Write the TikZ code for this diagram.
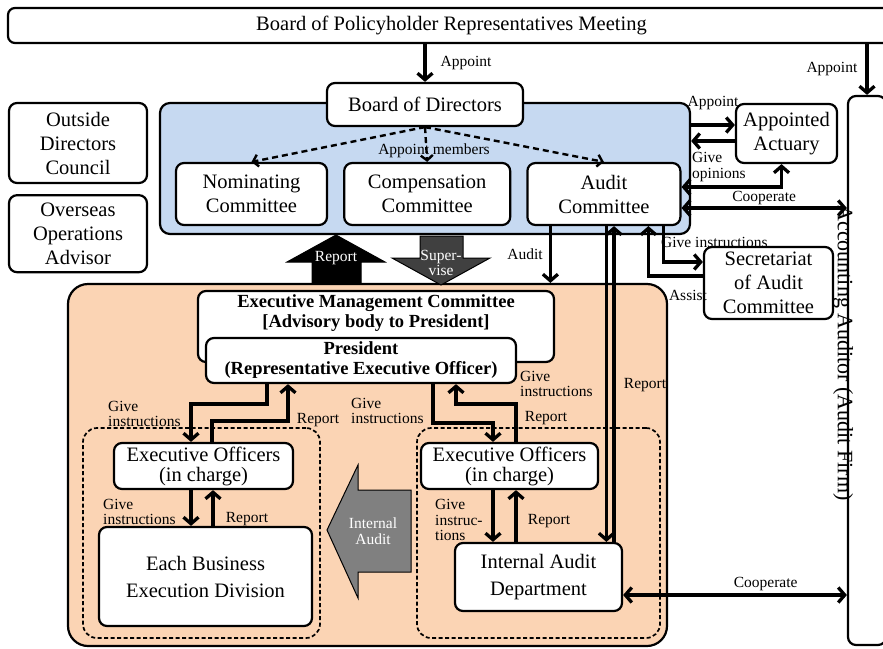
\documentclass[tikz,border=0pt]{standalone}
\usepackage{fontspec}
\setmainfont{Liberation Serif}
\usetikzlibrary{arrows.meta,positioning}
\definecolor{boardblue}{RGB}{198,217,241}
\definecolor{execorange}{RGB}{251,212,180}
\definecolor{supgray}{RGB}{64,64,64}
\definecolor{iagray}{RGB}{128,128,128}
\newcommand{\boxfont}{\fontsize{20.5}{24}\selectfont}
\newcommand{\labfont}{\fontsize{15.5}{15.5}\selectfont}
\newcommand{\headfont}{\fontsize{18.5}{20}\selectfont\bfseries}

\begin{document}
\begin{tikzpicture}[x=1pt, y=-1pt,
	org/.style={draw, line width=2.2pt, rounded corners=8pt, fill=white, align=center, font=\boxfont, inner sep=0pt},
	lab/.style={font=\labfont, inner sep=0pt, align=left},
	arr/.style={line width=3.3pt, -{Straight Barb[length=6.5pt,width=15pt]}},
	twoway/.style={line width=3.3pt, {Straight Barb[length=6.5pt,width=15pt]}-{Straight Barb[length=6.5pt,width=15pt]}},
	dasharr/.style={line width=2.4pt, dash pattern=on 6pt off 4pt, -{Straight Barb[length=5pt,width=12pt]}},
	group/.style={draw, line width=1.7pt, dash pattern=on 4pt off 2.5pt, rounded corners=14pt, inner sep=0pt},
	inv/.style={font=\labfont, text=white, align=center, inner sep=0pt}]

	\useasboundingbox (0,0) rectangle (883,648);

	\node (bluebg) [draw, fill=boardblue, line width=2.2pt, rounded corners=10pt, minimum width=530pt, minimum height=131pt, inner sep=0pt] at (425,168.5) {};
	\node (exbg) [draw, fill=execorange, line width=2.2pt, rounded corners=20pt, minimum width=599pt, minimum height=362pt, inner sep=0pt] at (367.5,465) {};
	\node (lgrp) [group, minimum width=237pt, minimum height=210pt] at (201.5,533) {};
	\node (rgrp) [group, minimum width=243pt, minimum height=210pt] at (538.5,533) {};

	\node (bprm) [org, rounded corners=7pt, minimum width=887pt, minimum height=35pt] at (451.5,25.5) {Board of Policyholder Representatives Meeting};
	\node (auditor) [org, minimum width=38pt, minimum height=549pt] at (867,370.5) {};
	\node (audtext) [font=\fontsize{22}{24}\selectfont, rotate=-90, inner sep=0pt] at (843,353) {Accounting Auditor (Audit Firm)};

	\node (bod) [org, minimum width=196pt, minimum height=43pt] at (425,104.5) {Board of Directors};
	\node (nom) [org, minimum width=151pt, minimum height=62pt] at (251.5,194) {Nominating\\Committee};
	\node (comp) [org, minimum width=166pt, minimum height=62pt, right=15pt of nom] {Compensation\\Committee};
	\node (aud) [org, minimum width=153pt, minimum height=62pt, right=15pt of comp] {Audit\\Committee};

	\node (odc) [org, minimum width=138pt, minimum height=80pt] at (78,143) {Outside\\Directors\\Council};
	\node (ooa) [org, minimum width=138pt, minimum height=77pt, below=10pt of odc] {Overseas\\Operations\\Advisor};

	\node (act) [org, minimum width=101pt, minimum height=59pt] at (786.5,133.5) {Appointed\\Actuary};
	\node (sec) [org, minimum width=129pt, minimum height=72pt] at (768.5,283) {Secretariat\\of Audit\\Committee};

	\node (emc) [org, minimum width=356pt, minimum height=71pt, label={[name=emclab, font=\headfont, align=center, anchor=north, inner sep=0pt, yshift=-5pt]north:{Executive Management Committee\\{[}Advisory body to President{]}}}] at (376,326.5) {};
	\node (pres) [org, font=\headfont, minimum width=310pt, minimum height=45pt] at (361,360.5) {President\\(Representative Executive Officer)};

	\node (eol) [org, font=\fontsize{20.5}{20}\selectfont, minimum width=179pt, minimum height=46pt] at (203.5,466) {Executive Officers\\(in charge)};
	\node (bed) [org, font=\fontsize{20.5}{27}\selectfont, minimum width=213pt, minimum height=99pt] at (205.5,576.5) {Each Business\\Execution Division};
	\node (eor) [org, font=\fontsize{20.5}{20}\selectfont, minimum width=177pt, minimum height=46pt] at (509.5,466) {Executive Officers\\(in charge)};
	\node (iad) [org, font=\fontsize{20.5}{27}\selectfont, minimum width=167pt, minimum height=68pt] at (538.5,577) {Internal Audit\\Department};

	\filldraw[line width=1pt] (312,284) -- (312,262) -- (287,262) -- (336,235) -- (385,262) -- (361,262) -- (361,284) -- cycle;
	\node (rpt) [inv] at (336,258) {Report};
	\filldraw[fill=supgray, line width=1pt] (420,236) -- (463,236) -- (463,258) -- (490,258) -- (441,285) -- (392,258) -- (420,258) -- cycle;
	\node (sup) [inv] at (441,263) {Super-\\vise};
	\filldraw[fill=iagray, line width=1pt] (411,490) -- (358,490) -- (358,465) -- (327,530) -- (358,598) -- (358,572) -- (411,572) -- cycle;
	\node (ia) [inv] at (373,531) {Internal\\Audit};

	\draw[arr] (bprm.south -| bod.north) -- node[lab, right=14pt] {Appoint} (bod.north);
	\draw[arr] (bprm.south -| auditor.north) -- node[lab, left=8pt] {Appoint} (auditor.north);

	\draw[dasharr] (bod.south) -- (nom.north);
	\draw[dasharr] (bod.south) -- (comp.north);
	\draw[dasharr] (bod.south) -- (aud.north);
	\node (apm) [lab] at (434,151) {Appoint members};

	\coordinate (actin) at ([yshift=8.5pt]act.west);
	\coordinate (actout) at ([yshift=-7.5pt]act.west);
	\draw[arr] (actin -| bluebg.east) -- node[lab, above=14pt] {Appoint} (actin);
	\draw[arr] (actout) -- (actout -| bluebg.east);

	\coordinate (opn) at ([yshift=7pt]aud.east);
	\draw[twoway] (opn) -| ([xshift=-5pt]act.south);
	\node (opnlab) [lab, anchor=west] at (692,167) {Give\\opinions};

	\coordinate (coop) at ([yshift=-14pt]aud.east);
	\draw[twoway] (coop) -- node[lab, above=2pt] {Cooperate} (coop -| auditor.west);

	\coordinate (gis) at ([xshift=59.5pt]aud.south);
	\draw[arr] (gis) |- ([yshift=21pt]sec.west);
	\node (gislab) [lab, anchor=west] at (661,242) {Give instructions};

	\coordinate (asi) at ([yshift=7pt]sec.west);
	\draw[arr] (asi) -| ([xshift=44.5pt]aud.south);
	\node (asilab) [lab] at (688,295) {Assist};

	\coordinate (audt) at ([xshift=-53.5pt]aud.south);
	\draw[arr] (audt) -- node[lab, left=6pt] {Audit} (audt |- exbg.north);

	\coordinate (audi) at ([xshift=2.5pt]aud.south);
	\draw[arr] (audi) -- (audi |- iad.north);
	\node (audilab) [lab, anchor=west] at (520,384) {Give\\instructions};
	\coordinate (iadr) at ([xshift=75.5pt]iad.north);
	\draw[arr] (iadr) -- (iadr |- aud.south);
	\node (iadrlab) [lab] at (645,385) {Report};

	\coordinate (pgl) at ([xshift=-94pt]pres.south);
	\draw[arr] (pgl) -- ++(0,20) -| ([xshift=-12.5pt]eol.north);
	\node (pgllab) [lab, anchor=west] at (108,414) {Give\\instructions};
	\coordinate (erl) at ([xshift=8.5pt]eol.north);
	\draw[arr] (erl) -- ++(0,-21) -| ([xshift=-73pt]pres.south);
	\node (erllab) [lab] at (318,420) {Report};

	\coordinate (pgr) at ([xshift=72pt]pres.south);
	\draw[arr] (pgr) -- ++(0,39) -| ([xshift=-16.5pt]eor.north);
	\node (pgrlab) [lab, anchor=west] at (351,411) {Give\\instructions};
	\coordinate (err) at ([xshift=6.5pt]eor.north);
	\draw[arr] (err) -- ++(0,-38) -| ([xshift=95pt]pres.south);
	\node (errlab) [lab] at (546,418) {Report};

	\coordinate (egl) at ([xshift=-12.5pt]eol.south);
	\draw[arr] (egl) -- (egl |- bed.north);
	\node (egllab) [lab, anchor=west] at (103,512) {Give\\instructions};
	\coordinate (brl) at ([xshift=7.5pt]bed.north);
	\draw[arr] (brl) -- (brl |- eol.south);
	\node (brllab) [lab] at (247,519) {Report};

	\coordinate (egr) at ([xshift=-16.5pt]eor.south);
	\draw[arr] (egr) -- (egr |- iad.north);
	\node (egrlab) [lab, anchor=west] at (435,520) {Give\\instruc-\\tions};
	\coordinate (irr) at ([xshift=-22.5pt]iad.north);
	\draw[arr] (irr) -- (irr |- eor.south);
	\node (irrlab) [lab] at (549,521) {Report};

	\coordinate (coop2) at ([yshift=-18pt]iad.east);
	\draw[twoway] (coop2) -- node[lab, pos=0.637, above=3pt] {Cooperate} (coop2 -| auditor.west);

\end{tikzpicture}
\end{document}
